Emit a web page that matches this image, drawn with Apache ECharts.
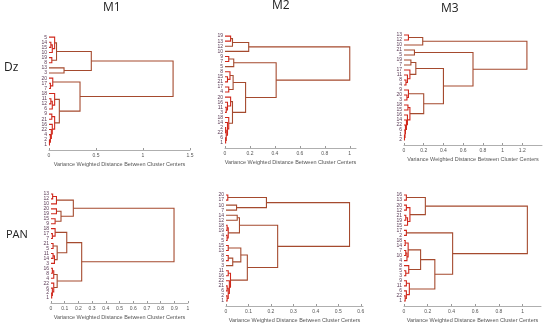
<!DOCTYPE html>
<html><head><meta charset="utf-8">
<script src="https://cdn.jsdelivr.net/npm/echarts@6/dist/echarts.min.js"></script>
<style>html,body{margin:0;padding:0;background:#fff}#c{width:550px;height:325px}</style>
</head><body><div id="c"></div>
<script>
// ---- DATA: leaf order (top to bottom) and merges [id, left, right, height] ----
const dzM1Leaves = [5,14,15,10,19,8,13,3,20,17,7,18,11,12,6,9,21,16,22,4,2,1];
const dzM1Merges = [
  ['a',14,15,0.02],['b','a',10,0.035],['c',5,'b',0.06],['d',19,8,0.03],['e','c','d',0.08],
  ['f',13,3,0.16],['g','e','f',0.45],['h',17,7,0.015],['i',20,'h',0.04],['j',11,12,0.02],
  ['k','j',6,0.035],['l',18,'k',0.06],['m',2,1,0.005],['n',4,'m',0.015],['o',22,'n',0.025],
  ['p',16,'o',0.035],['q',9,21,0.03],['r','q','p',0.06],['s','l','r',0.11],['t','i','s',0.33],
  ['u','g','t',1.32]
];
const dzM2Leaves = [19,13,12,10,9,7,5,8,15,21,17,4,20,16,11,3,18,14,2,22,6,1];
const dzM2Merges = [
  ['a',19,13,0.045],['b','a',12,0.06],['c','b',10,0.19],['d',9,7,0.03],['e','d',5,0.07],
  ['f',15,21,0.02],['g',8,'f',0.04],['h',17,4,0.03],['i','g','h',0.065],
  ['j',11,3,0.01],['k',16,'j',0.02],['l',20,'k',0.045],
  ['m',2,22,0.005],['n',6,1,0.005],['o','m','n',0.01],['p',14,'o',0.02],['q',18,'p',0.03],
  ['r','l','q',0.06],['s','i','r',0.165],['t','e','s',0.41],['u','c','t',1.0]
];
const dzM3Leaves = [13,12,10,21,5,19,7,17,11,8,4,9,20,3,18,15,16,14,22,6,1,2];
const dzM3Merges = [
  ['a',13,12,0.045],['b','a',10,0.19],['c',21,5,0.106],['d',19,7,0.07],['e',8,4,0.02],
  ['f',11,'e',0.035],['g',17,'f',0.06],['h','d','g',0.12],['i',20,3,0.03],['j',9,'i',0.045],
  ['k',18,15,0.04],['l',1,2,0.005],['m',6,'l',0.01],['n',22,'m',0.015],['o',14,'n',0.025],
  ['p',16,'o',0.035],['q','k','p',0.06],['r','j','q',0.2],['s','h','r',0.4],['t','c','s',0.7],
  ['u','b','t',1.247]
];
const panM1Leaves = [13,12,10,20,19,15,9,18,17,7,21,5,11,14,3,16,8,4,22,6,2,1];
const panM1Merges = [
  ['a',13,12,0.012],['b','a',10,0.04],['c',20,19,0.04],['d',15,9,0.03],['e','c','d',0.073],
  ['f','b','e',0.163],['g',17,7,0.01],['h',18,'g',0.03],['i',21,5,0.015],['j',11,14,0.015],
  ['k','j',3,0.025],['l','i','k',0.045],['m','h','l',0.115],['n',16,8,0.01],['o','n',4,0.02],
  ['p',2,1,0.005],['q',6,'p',0.01],['r',22,'q',0.02],['s','o','r',0.045],['t','m','s',0.224],
  ['u','f','t',0.898]
];
const panM2Leaves = [20,17,10,7,14,12,18,19,4,5,15,13,8,9,3,11,16,22,21,6,2,1];
const panM2Merges = [
  ['a',20,17,0.008],['b',10,7,0.047],['c','a','b',0.18],['d',14,12,0.05],['e',18,19,0.005],
  ['f',4,5,0.005],['g','e','f',0.01],['h','d','g',0.06],['i',15,13,0.01],['j',8,9,0.01],
  ['k','j',3,0.03],['l','i','k',0.066],['m',11,16,0.01],['n',21,6,0.005],['o',2,1,0.005],
  ['p','n','o',0.01],['q',22,'p',0.015],['r','m','q',0.02],['s','l','r',0.095],['t','h','s',0.23],
  ['u','c','t',0.55]
];
const panM3Leaves = [16,13,20,12,21,19,15,17,2,18,14,7,10,4,8,5,3,9,11,6,22,1];
const panM3Merges = [
  ['a',16,13,0.02],['b',20,12,0.02],['c',21,19,0.015],['d','c',15,0.03],['e','b','d',0.05],
  ['f','a','e',0.18],['g',17,2,0.02],['h',18,14,0.01],['i',7,10,0.015],['j','i',4,0.025],
  ['k','h','j',0.035],['l',5,3,0.015],['m',8,'l',0.04],['n','k','m',0.14],['o',9,11,0.02],
  ['p',22,1,0.01],['q',6,'p',0.02],['r','o','q',0.045],['s','n','r',0.26],['t','g','s',0.41],
  ['u','f','t',1.04]
];
const axisTitle = 'Variance Weighted Distance Between Cluster Centers';
const columnTitles = ['M1','M2','M3'];
const rowTitles = ['Dz','PAN'];

// ---- LAYOUT ----
const panels = [
  {leaves:dzM1Leaves,  merges:dzM1Merges,  grid:{left:49, top:32, width:141, height:118}, xMax:1.5,  xInt:0.5},
  {leaves:dzM2Leaves,  merges:dzM2Merges,  grid:{left:225,top:31, width:131, height:117}, xMax:1.05, xInt:0.2},
  {leaves:dzM3Leaves,  merges:dzM3Merges,  grid:{left:404,top:30, width:138, height:115}, xMax:1.4,  xInt:0.2},
  {leaves:panM1Leaves, merges:panM1Merges, grid:{left:51, top:189,width:137, height:114}, xMax:1.0,  xInt:0.1},
  {leaves:panM2Leaves, merges:panM2Merges, grid:{left:226,top:190,width:137, height:116}, xMax:0.61, xInt:0.1},
  {leaves:panM3Leaves, merges:panM3Merges, grid:{left:404,top:190,width:137, height:116}, xMax:1.155,xInt:0.2}
];
const BROWN = '#a54a2e', RED = '#d0281c';
const FONT = 'Liberation Sans';

const grids=[], xAxes=[], yAxes=[], series=[];
panels.forEach((p,k)=>{
  const n = p.leaves.length;
  const pos = {};
  p.leaves.forEach((lab,i)=>{ pos[lab] = {x:0, y:n-i}; });
  const maxH = Math.max(...p.merges.map(m=>m[3]));
  const links = [];
  p.merges.forEach(([id,a,b,h])=>{
    const A = pos[a], B = pos[b];
    links.push({coords:[[A.x,A.y],[h,A.y],[h,B.y],[B.x,B.y]],
      lineStyle:{color: h < 0.05*maxH ? RED : BROWN}});
    pos[id] = {x:h, y:(A.y+B.y)/2};
  });
  grids.push(Object.assign({containLabel:false}, p.grid));
  xAxes.push({type:'value', gridIndex:k, min:0, max:p.xMax, interval:p.xInt,
    axisLine:{show:true, lineStyle:{color:'#9a9a9a', width:0.8}},
    axisTick:{show:true, inside:true, length:2, lineStyle:{color:'#9a9a9a'}},
    axisLabel:{fontSize:5, color:'#555', margin:3, fontFamily:FONT, showMaxLabel: (p.xMax/p.xInt)%1===0},
    splitLine:{show:false},
    name:axisTitle, nameLocation:'middle', nameGap:11,
    nameTextStyle:{fontSize:5.5, color:'#555', fontFamily:FONT}});
  yAxes.push({type:'value', gridIndex:k, min:0, max:n+1, interval:1,
    axisLine:{show:false}, axisTick:{show:false}, splitLine:{show:false},
    axisLabel:{fontSize:5, color:'#5a3a55', margin:2, fontFamily:FONT,
      formatter:v=>(v>=1 && v<=n) ? String(p.leaves[n-v]) : ''}});
  series.push({type:'lines', coordinateSystem:'cartesian2d', xAxisIndex:k, yAxisIndex:k,
    polyline:true, silent:true, data:links, lineStyle:{width:1.1, opacity:1}});
});

const chart = echarts.init(document.getElementById('c'), null, {renderer:'canvas'});
chart.setOption({
  animation:false,
  grid:grids, xAxis:xAxes, yAxis:yAxes, series:series,
  graphic:[
    {type:'text', left:103, top:2, style:{text:columnTitles[0], fontSize:12, fill:'#222', fontFamily:'Open Sans'}},
    {type:'text', left:272, top:0, style:{text:columnTitles[1], fontSize:12, fill:'#222', fontFamily:'Open Sans'}},
    {type:'text', left:441, top:3, style:{text:columnTitles[2], fontSize:12, fill:'#222', fontFamily:'Open Sans'}},
    {type:'text', left:4, top:62, style:{text:rowTitles[0], fontSize:12, fill:'#222', fontFamily:'Open Sans'}},
    {type:'text', left:6, top:229, style:{text:rowTitles[1], fontSize:11, fill:'#222', fontFamily:'Open Sans'}}
  ]
});
</script></body></html>
